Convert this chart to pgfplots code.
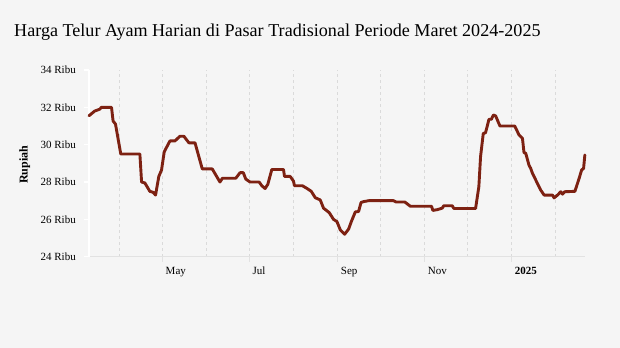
\documentclass[border=0pt]{standalone}
\usepackage{pgfplots}
\pgfplotsset{compat=1.18}
\usepackage{fontspec}
\setmainfont{Liberation Serif}
\definecolor{bg}{HTML}{F5F5F5}
\definecolor{ln}{RGB}{125,33,18}
\definecolor{grd}{HTML}{DADADA}
\definecolor{axl}{HTML}{E2E2E2}
\begin{document}
\begin{tikzpicture}
\fill[bg] (0bp,0bp) rectangle (620bp,348bp);
\node[anchor=base west, inner sep=0pt, font=\fontsize{18.1bp}{20bp}\selectfont] at (14bp,311.3bp) {Harga Telur Ayam Harian di Pasar Tradisional Periode Maret 2024-2025};
\node[rotate=90, anchor=base, inner sep=0pt, font=\bfseries\fontsize{12bp}{14bp}\selectfont] at (27.5bp,183.3bp) {Rupiah};
\begin{axis}[
  at={(89bp,91.3bp)}, anchor=south west,
  scale only axis, width=496bp, height=186.7bp,
  xmin=69.4, xmax=417.5, ymin=24, ymax=34,
  axis x line*=bottom, axis y line*=left,
  x axis line style={-, draw=axl, line width=1.6bp},
  y axis line style={-, draw=white, line width=1.6bp},
  ytick={24,26,28,30,32,34},
  yticklabels={24 Ribu,26 Ribu,28 Ribu,30 Ribu,32 Ribu,34 Ribu},
  xtick={121,182,244,305,366},
  xticklabels={May,Jul,Sep,Nov,\textbf{2025}},
  minor xtick={91,152,213,274,335,397},
  tick align=outside,
  major tick length=5bp, minor tick length=0pt,
  x tick style={draw=axl, line width=1.2bp},
  y tick style={draw=white, line width=1.2bp},
  xmajorgrids, xminorgrids, ymajorgrids=false,
  major grid style={draw=grd, line width=1.1bp, dash pattern=on 3bp off 3bp},
  minor grid style={draw=grd, line width=1.1bp, dash pattern=on 3bp off 3bp},
  ticklabel style={font=\fontsize{11bp}{13bp}\selectfont, inner sep=0pt},
  xticklabel style={anchor=base west, xshift=3bp, yshift=-12.5bp},
  yticklabel style={anchor=east, xshift=-8bp},
  clip=false,
]
\addplot[ln, line width=2.9bp, line join=round, line cap=round] coordinates {
(69.4,31.55) (73.4,31.8) (76.9,31.9) (78.1,32.0) (85.2,32.0) (86.3,31.27) (88.0,31.1)
(91.7,29.5) (105.1,29.5) (106.3,28.0) (108.6,27.95) (112.1,27.5) (114.4,27.45) (116.1,27.3)
(118.4,28.3) (120.3,28.64) (122.2,29.62) (126.2,30.2) (129.7,30.2) (133.2,30.45) (136.0,30.45)
(139.5,30.1) (143.8,30.1) (148.9,28.7) (155.9,28.7) (161.3,28.0) (163.0,28.2) (172.4,28.2)
(175.4,28.5) (177.7,28.5) (179.4,28.16) (182.4,28.0) (188.8,28.0) (190.7,27.8) (193.0,27.65)
(194.9,27.88) (197.7,28.67) (205.9,28.67) (206.6,28.3) (210.6,28.3) (212.9,28.05) (213.6,27.8)
(219.2,27.8) (222.3,27.66) (225.4,27.5) (228.2,27.16) (231.7,27.04) (234.0,26.6) (238.0,26.36)
(241.0,26.0) (243.4,25.88) (245.8,25.43) (248.8,25.2) (251.6,25.48) (253.5,25.88) (256.3,26.4)
(258.6,26.42) (260.3,26.9) (262.1,26.95) (265.7,27.0) (283.2,27.0) (284.9,26.93) (291.0,26.93)
(295.0,26.7) (309.8,26.7) (310.7,26.48) (313.8,26.52) (317.3,26.6) (318.4,26.73) (324.3,26.73)
(325.5,26.58) (340.7,26.58) (343.0,27.75) (344.2,29.36) (346.1,30.6) (347.7,30.64) (350.1,31.36)
(351.8,31.36) (353.2,31.59) (354.8,31.54) (357.8,31.0) (368.2,31.0) (371.2,30.52) (373.6,30.34)
(374.7,29.57) (375.9,29.54) (378.2,28.9) (379.4,28.73) (380.6,28.47) (386.4,27.57) (388.8,27.3)
(394.7,27.3) (395.8,27.15) (398.2,27.3) (400.5,27.48) (401.7,27.35) (403.3,27.48) (410.4,27.5)
(413.4,28.2) (415.1,28.64) (416.5,28.73) (417.4,29.45)
};
\end{axis}
\pgfresetboundingbox
\path (0bp,0bp) rectangle (620bp,348bp);
\end{tikzpicture}
\end{document}
